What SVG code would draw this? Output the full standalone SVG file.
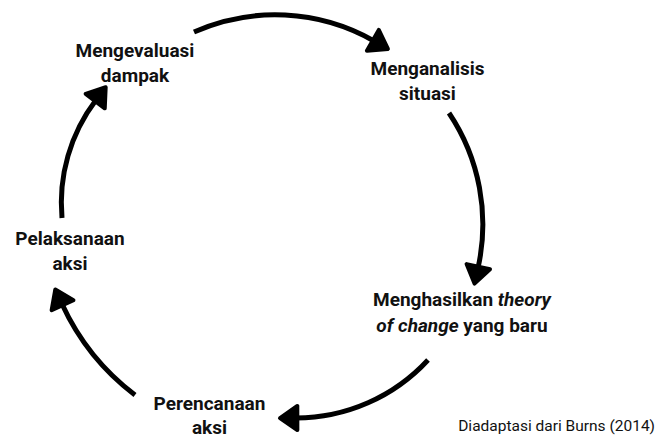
<svg xmlns="http://www.w3.org/2000/svg" width="657" height="438" viewBox="0 0 657 438">
<defs>
<style>
.lbl{font-family:Roboto,"Liberation Sans",sans-serif;font-weight:bold;font-size:19px;fill:#111;text-anchor:middle}
.src{font-family:Roboto,"Liberation Sans",sans-serif;font-size:15.5px;fill:#111;text-anchor:end}
.arc{fill:none;stroke:#000;stroke-width:5;stroke-linecap:butt}
</style>
<marker id="ah" markerUnits="userSpaceOnUse" markerWidth="40" markerHeight="40" refX="1" refY="0" viewBox="-5 -15 30 30" orient="auto" overflow="visible">
<path d="M0,-9 L13,0 L0,9 Z" fill="#000" stroke="#000" stroke-width="3" stroke-linejoin="round"/>
</marker>
</defs>
<rect width="657" height="438" fill="#fff"/>
<g id="connectors">
<path class="arc" d="M194,32 A200,200 0 0 1 374,41" marker-end="url(#ah)"/>
<path class="arc" d="M449,113 A200,200 0 0 1 478,268" marker-end="url(#ah)"/>
<path class="arc" d="M428,360 A180,180 0 0 1 296,418" marker-end="url(#ah)"/>
<path class="arc" d="M135,395 A240,240 0 0 1 62,304" marker-end="url(#ah)"/>
<path class="arc" d="M62,218 A170,170 0 0 1 96,100" marker-end="url(#ah)"/>
</g>
<g id="n-mengevaluasi">
<text class="lbl" x="135" y="57">Mengevaluasi</text>
<text class="lbl" x="135" y="82">dampak</text>
</g>
<g id="n-menganalisis">
<text class="lbl" x="427.5" y="75">Menganalisis</text>
<text class="lbl" x="427.5" y="100">situasi</text>
</g>
<g id="n-menghasilkan">
<text class="lbl" x="462" y="306">Menghasilkan <tspan font-style="italic">theory</tspan></text>
<text class="lbl" x="462" y="332"><tspan font-style="italic">of change</tspan> yang baru</text>
</g>
<g id="n-perencanaan">
<text class="lbl" x="209.5" y="410">Perencanaan</text>
<text class="lbl" x="209.5" y="434">aksi</text>
</g>
<g id="n-pelaksanaan">
<text class="lbl" x="70" y="245">Pelaksanaan</text>
<text class="lbl" x="70" y="270">aksi</text>
</g>
<text class="src" x="655" y="431">Diadaptasi dari Burns (2014)</text>
</svg>
